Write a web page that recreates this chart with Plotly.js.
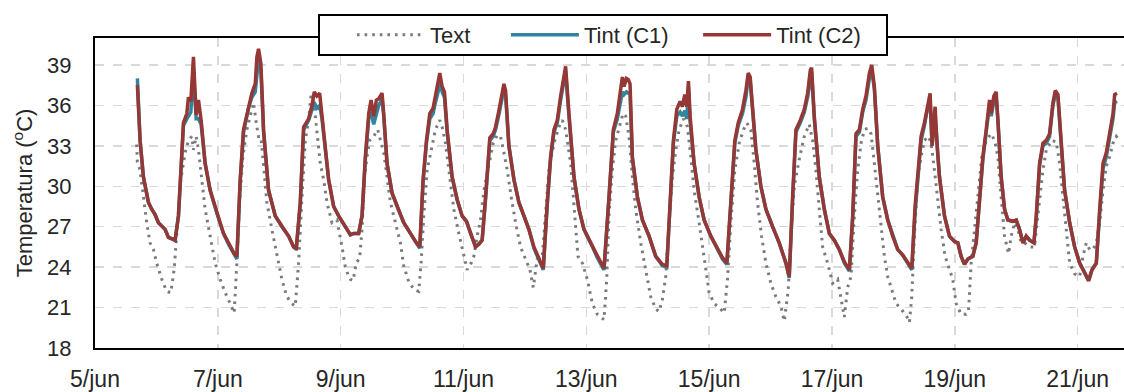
<!DOCTYPE html>
<html><head><meta charset="utf-8">
<script src="https://cdn.plot.ly/plotly-3.0.1.min.js"></script>
<style>html,body{margin:0;padding:0;overflow:hidden;background:#fff}#chart{width:1130px;height:392px}</style>
</head><body><div id="chart"></div>
<script>
// time in days since 5/jun 00:00
const tInt = [0.690,0.734,0.788,0.870,0.924,0.978,1.033,1.087,1.141,1.196,1.304,1.359,1.413,1.440,1.495,1.522,1.560,1.603,1.647,1.685,1.728,1.793,1.875,1.984,2.092,2.174,2.266,2.310,2.364,2.418,2.500,2.554,2.609,2.636,2.663,2.701,2.745,2.826,2.935,3.043,3.152,3.234,3.277,3.342,3.397,3.478,3.533,3.571,3.614,3.658,3.696,3.750,3.804,3.886,3.967,
4.076,4.158,4.212,4.293,4.348,4.402,4.457,4.495,4.538,4.582,4.620,4.674,4.701,4.755,4.837,4.918,5.027,5.136,5.217,5.288,5.342,5.397,5.451,5.505,5.543,5.587,5.614,5.652,5.690,5.734,5.815,5.897,5.978,6.049,6.114,6.196,6.250,6.304,6.359,6.429,6.484,6.522,6.576,6.630,6.658,6.685,6.739,6.821,6.902,6.984,7.065,7.147,7.228,7.299,7.364,7.418,7.473,7.527,7.582,7.625,7.663,7.717,7.799,7.880,7.962,8.071,8.179,
8.288,8.370,8.440,8.505,8.549,8.587,8.614,8.652,8.685,8.712,8.750,8.832,8.913,9.022,9.130,9.239,9.310,9.364,9.418,9.473,9.527,9.565,9.603,9.636,9.663,9.690,9.755,9.837,9.918,10.027,10.136,10.217,10.288,10.353,10.418,10.473,10.543,10.598,10.636,10.668,10.707,10.761,10.842,10.924,11.033,11.141,11.250,11.304,11.359,11.413,11.484,11.549,11.603,11.647,11.668,11.712,11.793,11.875,11.957,12.038,12.120,12.201,12.283,
12.337,12.391,12.446,12.500,12.554,12.609,12.647,12.690,12.745,12.826,12.908,12.989,13.071,13.152,13.234,13.299,13.353,13.397,13.451,13.505,13.549,13.598,13.630,13.679,13.712,13.750,13.832,13.913,13.995,14.049,14.103,14.158,14.212,14.293,14.348,14.402,14.457,14.511,14.565,14.592,14.636,14.674,14.701,14.755,14.810,14.864,14.946,15.000,15.054,15.109,15.163,15.217,15.288,15.326,15.380,15.435,15.489,15.543,15.598,15.636,15.679,15.734,15.788,15.870,15.951,16.033,16.114,16.179,16.234,16.304,16.359,16.413,16.467,16.522,16.576,16.603,16.641];

const tintC2 = [37.5,33.4,30.7,28.8,28.3,27.9,27.3,27.0,26.8,26.2,26.0,27.8,32.2,34.7,35.4,36.6,36.3,39.6,35.3,36.4,34.9,31.7,29.7,28.0,26.5,25.8,25.0,24.8,30.5,34.2,36.0,36.9,37.6,39.6,40.2,39.1,34.2,29.7,27.8,27.0,26.3,25.5,25.4,28.8,34.4,35.0,36.0,37.0,36.7,36.9,35.2,33.0,30.5,28.5,27.8,
27.0,26.4,26.5,26.5,27.8,32.2,35.4,36.4,35.2,36.4,36.5,36.9,35.4,31.7,29.5,28.5,27.3,26.5,25.9,25.5,30.5,33.4,35.4,35.8,36.7,37.8,38.4,37.4,37.0,34.2,30.7,29.0,27.8,27.4,26.5,25.5,25.7,26.0,29.2,33.6,33.9,34.4,35.6,37.1,37.6,37.1,33.0,30.5,28.8,27.8,26.8,25.5,24.6,23.9,28.8,32.2,34.2,34.9,36.7,37.9,38.9,35.4,30.7,28.3,26.8,25.8,24.8,
23.9,29.2,34.2,35.4,36.9,38.1,37.4,38.0,37.9,37.6,32.2,29.2,27.5,26.3,24.8,24.2,24.1,29.2,33.4,35.7,36.3,35.9,36.8,35.9,37.8,35.2,31.7,29.2,27.5,26.3,25.3,24.7,24.3,28.8,33.4,34.7,35.7,37.1,38.4,38.1,35.7,32.7,30.0,28.3,27.0,25.8,24.3,23.3,29.2,34.2,34.9,35.7,36.9,38.6,38.8,35.2,30.7,28.3,26.5,26.0,25.3,24.4,23.8,
27.8,33.9,34.2,35.7,36.7,38.4,39.0,37.4,33.0,29.2,27.5,26.3,25.3,24.9,24.3,23.9,28.5,31.2,33.7,34.7,35.9,36.9,33.0,35.9,33.0,30.7,27.8,26.3,25.9,25.8,24.8,24.2,24.6,24.8,25.8,28.8,32.2,34.2,36.4,35.4,36.7,37.0,35.2,30.7,28.3,27.5,27.4,27.5,26.8,25.8,26.3,26.0,25.8,27.8,31.7,33.2,33.4,33.9,36.2,37.1,36.8,33.0,29.7,27.3,25.5,24.3,23.6,23.0,23.8,24.3,28.3,31.7,32.5,33.9,35.4,36.8,36.9];

const tintC1 = [38.0,33.4,30.7,28.8,28.3,27.9,27.3,27.0,26.8,26.2,26.0,27.8,32.0,34.5,35.0,35.2,35.5,38.5,35.0,35.0,34.6,31.7,29.7,28.0,26.5,25.7,24.9,24.6,30.3,34.0,35.8,36.6,37.0,38.5,39.5,38.6,34.0,29.7,27.8,27.0,26.3,25.5,25.3,28.6,34.2,34.9,35.6,36.2,35.8,36.0,35.0,33.0,30.5,28.5,27.8,
27.0,26.4,26.5,26.5,27.8,32.0,35.0,35.5,34.6,35.5,36.0,36.5,35.2,31.7,29.5,28.5,27.3,26.5,25.9,25.4,30.3,33.2,35.0,35.4,36.2,37.0,37.8,37.0,36.6,34.0,30.7,29.0,27.8,27.4,26.5,25.5,25.7,26.0,29.0,33.4,33.7,34.2,35.3,36.8,37.2,36.8,33.0,30.5,28.8,27.8,26.8,25.4,24.5,23.8,28.6,32.0,34.0,34.7,36.4,37.5,38.5,35.2,30.7,28.3,26.8,25.8,24.7,
23.8,29.0,34.0,35.0,36.3,37.0,36.8,37.0,36.9,36.8,32.0,29.2,27.5,26.3,24.8,24.1,24.0,29.0,33.2,35.2,35.5,35.2,35.6,35.0,37.3,34.8,31.7,29.2,27.5,26.3,25.3,24.6,24.2,28.6,33.2,34.5,35.4,36.6,38.0,37.8,35.5,32.7,30.0,28.3,27.0,25.8,24.3,23.2,29.0,34.0,34.7,35.5,36.6,38.2,38.5,35.0,30.7,28.3,26.5,26.0,25.3,24.3,23.7,
27.6,33.7,34.0,35.5,36.4,38.0,38.6,37.2,33.0,29.2,27.5,26.3,25.3,24.9,24.3,23.8,28.0,30.8,33.4,34.5,35.6,36.3,33.0,35.3,33.0,30.7,27.8,26.3,25.9,25.8,24.8,24.2,24.6,24.8,25.8,28.6,32.0,34.0,36.0,35.2,36.3,36.5,35.0,30.7,28.3,27.5,27.4,27.5,26.8,25.8,26.3,26.0,25.8,27.6,31.5,33.0,33.2,33.7,36.0,36.8,36.6,33.0,29.7,27.3,25.5,24.3,23.6,23.0,23.8,24.3,28.0,31.3,32.2,33.5,35.0,36.2,36.3];

const tExt = [0.679,0.690,0.734,0.788,0.842,0.897,0.951,1.005,1.087,1.168,1.234,1.288,1.342,1.397,1.467,1.522,1.576,1.603,1.647,1.685,1.739,1.793,1.875,1.957,2.038,2.120,2.201,2.266,2.310,2.353,2.408,2.473,2.538,2.582,2.625,2.663,2.701,2.745,2.799,2.880,2.962,3.043,3.125,3.207,3.261,3.315,3.370,3.424,3.478,3.516,3.560,3.614,3.668,3.723,3.777,3.859,3.940,4.022,4.076,4.130,
4.158,4.201,4.255,4.310,4.348,4.386,4.429,4.473,4.538,4.603,4.647,4.701,4.755,4.810,4.891,4.973,5.027,5.109,5.201,5.272,5.310,5.353,5.408,5.489,5.543,5.614,5.652,5.707,5.761,5.842,5.924,6.005,6.060,6.125,6.168,6.223,6.277,6.332,6.413,6.484,6.549,6.603,6.658,6.712,6.777,6.848,6.929,7.011,7.082,7.136,7.201,7.283,7.337,7.391,7.473,7.554,7.609,7.663,7.745,7.799,7.864,7.935,8.016,8.098,8.179,
8.288,8.332,8.370,8.424,8.478,8.560,8.598,8.641,8.696,8.750,8.804,8.886,8.967,9.049,9.130,9.185,9.239,9.293,9.348,9.402,9.457,9.511,9.582,9.647,9.701,9.755,9.837,9.918,10.000,10.082,10.163,10.245,10.299,10.353,10.418,10.489,10.560,10.614,10.679,10.734,10.788,10.853,10.924,11.005,11.087,11.168,11.223,11.288,11.332,11.386,11.467,11.549,11.630,11.685,11.739,11.793,11.848,11.929,12.011,12.092,12.147,12.201,12.255,12.310,
12.364,12.418,12.473,12.527,12.582,12.636,12.690,12.745,12.799,12.853,12.908,12.962,13.043,13.125,13.223,13.261,13.299,13.342,13.397,13.451,13.505,13.571,13.614,13.668,13.723,13.777,13.842,13.913,13.967,14.022,14.103,14.185,14.223,14.266,14.321,14.375,14.440,14.511,14.592,14.647,14.701,14.755,14.810,14.875,14.918,14.973,15.027,15.082,15.136,15.217,15.299,15.326,15.380,15.435,15.489,15.571,15.652,15.707,15.761,15.815,15.870,15.951,16.033,16.087,16.141,16.196,16.250,16.304,16.359,16.413,16.467,16.522,16.576,16.630,16.685];

const textT = [33.1,31.8,31.2,29.2,27.3,25.8,25.3,24.3,23.1,22.2,22.1,23.8,26.8,30.5,32.5,33.4,33.7,32.7,33.7,32.7,30.5,28.3,26.3,24.3,23.1,22.1,21.3,20.6,24.3,28.8,32.2,34.2,35.4,36.2,34.7,33.7,33.7,31.2,28.8,26.8,24.8,23.1,21.8,21.3,21.1,24.3,29.2,33.4,34.9,36.7,36.4,33.9,31.7,30.5,28.8,27.3,27.5,25.5,24.0,23.3,
23.1,23.0,24.3,24.7,26.8,30.5,32.2,33.4,33.7,34.2,33.4,32.5,30.7,28.8,27.3,25.8,24.1,22.9,22.3,22.2,24.3,27.8,31.2,33.0,34.2,34.9,34.4,33.2,31.2,28.3,26.5,25.0,23.8,24.3,24.8,26.3,27.5,29.7,31.7,33.2,33.8,33.7,32.5,31.2,29.2,27.3,25.5,24.6,23.8,22.5,24.6,24.8,27.8,31.2,33.2,34.4,34.9,34.2,31.7,28.3,24.8,24.3,23.1,21.3,20.5,
20.1,23.1,28.0,31.2,33.4,34.9,35.4,35.2,33.7,30.7,28.3,25.8,23.8,21.8,20.9,20.7,21.6,23.3,27.3,30.7,32.7,34.2,35.0,34.4,32.2,29.7,27.3,24.8,22.1,21.3,21.0,20.6,23.1,27.3,31.2,33.2,34.2,34.7,34.2,31.7,28.8,26.3,24.3,22.8,21.8,21.1,20.0,22.3,26.3,30.0,32.0,33.7,34.6,33.4,31.2,28.3,25.5,24.3,22.8,23.1,21.8,20.3,22.5,23.3,
27.8,31.2,33.2,34.2,34.3,33.9,31.7,29.2,26.8,24.8,23.3,22.5,21.3,20.9,20.3,19.9,21.8,26.3,30.7,32.2,33.4,33.7,33.2,31.2,28.8,26.8,24.8,23.8,23.1,21.3,20.5,20.5,20.7,24.3,26.8,29.7,32.2,33.4,33.9,33.4,32.2,29.2,26.3,25.0,26.3,27.3,26.8,25.8,25.8,25.5,25.5,26.8,29.2,31.2,32.7,33.4,33.3,31.7,29.2,26.8,24.3,23.5,23.3,24.8,25.8,25.3,25.3,25.8,27.3,29.7,31.5,32.2,33.2,33.7,33.4];

const tickDays = [0,2,4,6,8,10,12,14,16];
const tickLabels = ['5/jun','7/jun','9/jun','11/jun','13/jun','15/jun','17/jun','19/jun','21/jun'];
const yTicks = [18,21,24,27,30,33,36,39];
const seriesNames = ['Text','Tint (C1)','Tint (C2)'];

const FONT = '"Liberation Sans", Arial, sans-serif';
const TXT = '#262626';
const NB = '\u00a0';
const pad = n => NB.repeat(n);

const W = 1130, H = 392, L = 95, R = 2, T = 38, B = 44;
const pw = W - L - R, ph = H - T - B;

const traces = [
  {x: tExt, y: textT, name: seriesNames[0] + pad(5), type: 'scatter', mode: 'lines',
   line: {color: '#7a7a7a', width: 3, dash: '2.6px,5px'}},
  {x: tInt, y: tintC1, name: seriesNames[1] + pad(4), type: 'scatter', mode: 'lines',
   line: {color: '#31849b', width: 3.5}},
  {x: tInt, y: tintC2, name: seriesNames[2], type: 'scatter', mode: 'lines',
   line: {color: '#953735', width: 3.5}}
];

// legend frame box (pixel positions converted to paper fractions)
const box = {x0: 319, x1: 887, y0: 15, y1: 55};

const layout = {
  width: W, height: H,
  margin: {l: L, r: R, t: T, b: B, autoexpand: false},
  paper_bgcolor: '#fff', plot_bgcolor: '#fff',
  font: {family: FONT, size: 22, color: TXT},
  showlegend: true,
  legend: {orientation: 'h', x: 352 / W, xref: 'container', xanchor: 'left',
    y: 1 - 35 / H, yref: 'container', yanchor: 'middle',
    bgcolor: 'rgba(0,0,0,0)', borderwidth: 0,
    font: {family: FONT, size: 22, color: TXT}, itemwidth: 68, traceorder: 'normal'},
  shapes: [{type: 'rect', xref: 'paper', yref: 'paper', layer: 'above',
    x0: (box.x0 - L) / pw, x1: (box.x1 - L) / pw,
    y0: (H - B - box.y1) / ph, y1: (H - B - box.y0) / ph,
    fillcolor: '#fff', line: {color: '#000', width: 2}}],
  xaxis: {range: [0, 16.82], tickmode: 'array', tickvals: tickDays, ticktext: tickLabels,
    showgrid: true, gridcolor: '#d9d9d9', gridwidth: 1.5, griddash: 'dash',
    showline: true, linecolor: '#000', linewidth: 2, mirror: true, zeroline: false,
    ticks: 'outside', ticklen: 9, tickcolor: 'rgba(0,0,0,0)',
    tickfont: {family: FONT, size: 23, color: TXT}},
  yaxis: {range: [18, 41], tickmode: 'array', tickvals: yTicks,
    showgrid: true, gridcolor: '#d9d9d9', gridwidth: 1.5, griddash: 'dash',
    showline: true, linecolor: '#000', linewidth: 2, mirror: true, zeroline: false,
    ticks: 'outside', ticklen: 17, tickcolor: 'rgba(0,0,0,0)',
    tickfont: {family: FONT, size: 22, color: TXT},
    title: {text: 'Temperatura (<sup>o</sup>C)' + pad(6), font: {family: FONT, size: 22, color: TXT}, standoff: 8}}
};

Plotly.newPlot('chart', traces, layout, {displayModeBar: false, staticPlot: true});
</script></body></html>
